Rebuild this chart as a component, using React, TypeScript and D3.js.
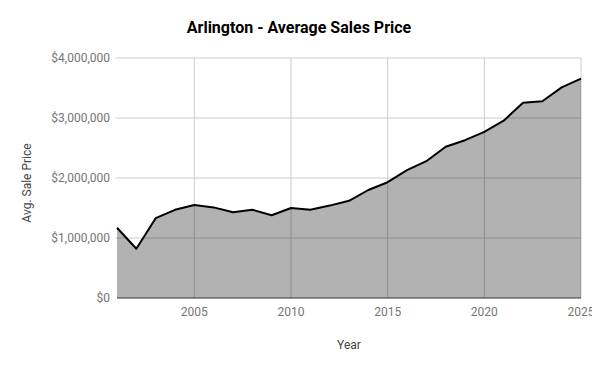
import { useRef, useEffect } from 'react';
import * as d3 from 'd3';

const years = [2001, 2002, 2003, 2004, 2005, 2006, 2007, 2008, 2009, 2010, 2011, 2012, 2013,
  2014, 2015, 2016, 2017, 2018, 2019, 2020, 2021, 2022, 2023, 2024, 2025];
const avgPrice = [1170000, 820000, 1330000, 1470000, 1550000, 1510000, 1430000, 1470000, 1380000,
  1500000, 1470000, 1540000, 1620000, 1800000, 1930000, 2130000, 2280000, 2520000, 2630000,
  2770000, 2955000, 3255000, 3280000, 3510000, 3655000];
const xTicks = [2005, 2010, 2015, 2020, 2025];
const yTicks = [0, 1000000, 2000000, 3000000, 4000000];

export default function App() {
  const svgRef = useRef<SVGSVGElement>(null);

  useEffect(() => {
    const svgWidth = 600;
    const svgHeight = 371;
    const margin = { top: 58, right: 19, bottom: 73, left: 117 };
    const width = svgWidth - margin.left - margin.right;
    const height = svgHeight - margin.top - margin.bottom;

    const svg = d3.select(svgRef.current).attr('width', svgWidth).attr('height', svgHeight);
    svg.selectAll('*').remove();
    svg.append('rect').attr('width', svgWidth).attr('height', svgHeight).attr('fill', '#fff');

    const g = svg.append('g').attr('transform', `translate(${margin.left}, ${margin.top})`);

    const x = d3.scaleLinear().domain([2001, 2025]).range([0, width]);
    const y = d3.scaleLinear().domain([0, 4000000]).range([height, 0]);

    const data = years.map((yr, i) => ({ year: yr, value: avgPrice[i] }));

    // gridlines
    g.append('g')
      .selectAll('line')
      .data(yTicks.filter((t) => t > 0))
      .join('line')
      .attr('x1', -2)
      .attr('x2', width)
      .attr('y1', (d) => y(d))
      .attr('y2', (d) => y(d))
      .attr('stroke', '#ccc');
    g.append('g')
      .selectAll('line')
      .data(xTicks)
      .join('line')
      .attr('x1', (d) => x(d))
      .attr('x2', (d) => x(d))
      .attr('y1', 0)
      .attr('y2', height)
      .attr('stroke', '#ccc');

    const area = d3
      .area<{ year: number; value: number }>()
      .x((d) => x(d.year))
      .y0(height)
      .y1((d) => y(d.value));
    const line = d3
      .line<{ year: number; value: number }>()
      .x((d) => x(d.year))
      .y((d) => y(d.value));

    g.append('path').datum(data).attr('d', area).attr('fill', '#000').attr('fill-opacity', 0.3);

    // baseline
    g.append('line')
      .attr('x1', 0)
      .attr('x2', width)
      .attr('y1', y(0))
      .attr('y2', y(0))
      .attr('stroke', '#333');

    g.append('path')
      .datum(data)
      .attr('d', line)
      .attr('fill', 'none')
      .attr('stroke', '#000')
      .attr('stroke-width', 2)
      .attr('stroke-linejoin', 'round');

    const font = 'Roboto, sans-serif';
    const fmt = (v: number) => '$' + d3.format(',')(v);

    g.append('g')
      .selectAll('text')
      .data(yTicks)
      .join('text')
      .attr('x', -7)
      .attr('y', (d) => y(d) + 4)
      .attr('text-anchor', 'end')
      .attr('font-family', font)
      .attr('font-size', 12)
      .attr('fill', '#757575')
      .text(fmt);

    g.append('g')
      .selectAll('text')
      .data(xTicks)
      .join('text')
      .attr('x', (d) => x(d))
      .attr('y', height + 18)
      .attr('text-anchor', 'middle')
      .attr('font-family', font)
      .attr('font-size', 12)
      .attr('fill', '#757575')
      .text((d) => String(d));

    svg.append('text')
      .attr('x', margin.left + width / 2)
      .attr('y', 349)
      .attr('text-anchor', 'middle')
      .attr('font-family', font)
      .attr('font-size', 12)
      .attr('fill', '#444')
      .text('Year');

    svg.append('text')
      .attr('transform', `translate(31, 183) rotate(-90)`)
      .attr('text-anchor', 'middle')
      .attr('font-family', font)
      .attr('font-size', 12)
      .attr('fill', '#444')
      .text('Avg. Sale Price');

    svg.append('text')
      .attr('x', 299)
      .attr('y', 33)
      .attr('text-anchor', 'middle')
      .attr('font-family', font)
      .attr('font-size', 16)
      .attr('font-weight', 'bold')
      .attr('fill', '#000')
      .text('Arlington - Average Sales Price');
  }, []);

  return (
    <div style={{ margin: -8 }}>
      <svg ref={svgRef} style={{ display: 'block' }} />
    </div>
  );
}
